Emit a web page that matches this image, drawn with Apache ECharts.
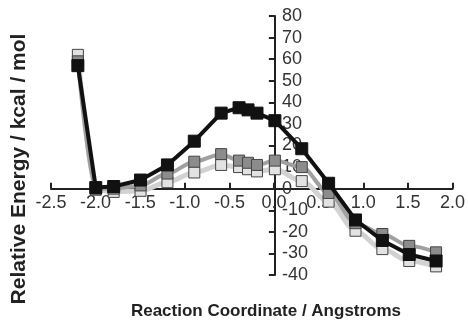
<!DOCTYPE html>
<html>
<head>
<meta charset="utf-8">
<script src="https://cdn.jsdelivr.net/npm/echarts@6/dist/echarts.min.js"></script>
<style>
  html, body { margin: 0; padding: 0; background: #fff; }
  #chart { width: 468px; height: 324px; }
</style>
</head>
<body>
<div id="chart"></div>
<script>
// reaction coordinate (Angstroms)
const coords = [-2.2, -2.0, -1.8, -1.5, -1.2, -0.9, -0.6, -0.4, -0.3, -0.2, 0.0, 0.3, 0.6, 0.9, 1.2, 1.5, 1.8];
// relative energies (kcal/mol)
const blackSeries = [57, 0.5, 1, 4, 11, 22, 35, 37.5, 36.5, 35, 31.5, 18.5, 2.5, -14.5, -24, -30.5, -33.5];
const graySeries = [59, 0, 0, 1.5, 7, 12.5, 16, 13, 12, 11, 13, 10, -2, -16, -21, -26.5, -29.5];
const lightSeries = [62, -0.5, -1.5, -1, 3, 7.5, 11, 10, 9, 8, 9, 3.5, -6, -19.5, -28, -33.5, -36];

const xTitle = 'Reaction Coordinate / Angstroms';
const yTitle = 'Relative Energy / kcal / mol';

const xRange = { min: -2.5, max: 2.0, interval: 0.5 };
const yRange = { min: -40, max: 80, interval: 10 };

const pairs = vals => coords.map((x, i) => [x, vals[i]]);
const font = "'Liberation Sans', Arial, sans-serif";
const mainGrid = { left: 51, right: 14, top: 16, bottom: 49 };

const chart = echarts.init(document.getElementById('chart'));

const hiddenX = (gridIndex) => Object.assign({ type: 'value', gridIndex, show: false }, xRange);
const hiddenY = (gridIndex) => Object.assign({ type: 'value', gridIndex, show: false }, yRange);

// first pass: data grid only, axes hidden
chart.setOption({
  animation: false,
  grid: [mainGrid],
  xAxis: [hiddenX(0)],
  yAxis: [hiddenY(0)],
  series: [
    {
      name: 'light', type: 'line', data: pairs(lightSeries), smooth: 0.3, smoothMonotone: 'x',
      symbol: 'rect', symbolSize: 11,
      lineStyle: { color: '#d2d2d2', width: 5 },
      itemStyle: { color: '#e2e2e2', borderColor: '#444', borderWidth: 1 },
      z: 2
    },
    {
      name: 'gray', type: 'line', data: pairs(graySeries), smooth: 0.3, smoothMonotone: 'x',
      symbol: 'rect', symbolSize: 11,
      lineStyle: { color: '#a0a0a0', width: 4 },
      itemStyle: { color: '#8c8c8c', borderColor: '#444', borderWidth: 1 },
      z: 3
    },
    {
      name: 'black', type: 'line', data: pairs(blackSeries),
      symbol: 'rect', symbolSize: 12,
      lineStyle: { color: '#111', width: 4 },
      itemStyle: { color: '#111', borderColor: '#111', borderWidth: 1 },
      z: 4
    }
  ]
});

// where the origin lands, so the axes can cross there
const origin = chart.convertToPixel({ gridIndex: 0 }, [0, 0]);
const tickStyle = { color: '#222', width: 2 };
const axisLine = { onZero: false, lineStyle: tickStyle };
const labelStyle = { color: '#333', fontSize: 18, fontFamily: font };

chart.setOption({
  grid: [
    mainGrid,
    { left: origin[0], width: 1, top: mainGrid.top, bottom: mainGrid.bottom },
    { left: mainGrid.left, right: mainGrid.right, top: mainGrid.top, height: origin[1] - mainGrid.top }
  ],
  xAxis: [
    hiddenX(0),
    hiddenX(1),
    Object.assign({
      type: 'value', gridIndex: 2, position: 'bottom',
      splitLine: { show: false },
      axisLine,
      axisTick: { inside: true, length: 6, lineStyle: tickStyle },
      axisLabel: Object.assign({ margin: 5, formatter: v => v.toFixed(1) }, labelStyle)
    }, xRange)
  ],
  yAxis: [
    hiddenY(0),
    Object.assign({
      type: 'value', gridIndex: 1, position: 'left',
      splitLine: { show: false },
      axisLine,
      axisTick: { inside: false, length: 6, lineStyle: tickStyle },
      axisLabel: Object.assign({ inside: true, margin: 7 }, labelStyle)
    }, yRange),
    hiddenY(2)
  ],
  graphic: [
    {
      type: 'text', x: 266, y: 311,
      style: { text: xTitle, font: 'bold 17px ' + font, fill: '#222', textAlign: 'center', textVerticalAlign: 'middle' }
    },
    {
      type: 'text', x: 19, y: 169, rotation: Math.PI / 2,
      style: { text: yTitle, font: 'bold 21px ' + font, fill: '#222', textAlign: 'center', textVerticalAlign: 'middle' }
    }
  ]
});
</script>
</body>
</html>
